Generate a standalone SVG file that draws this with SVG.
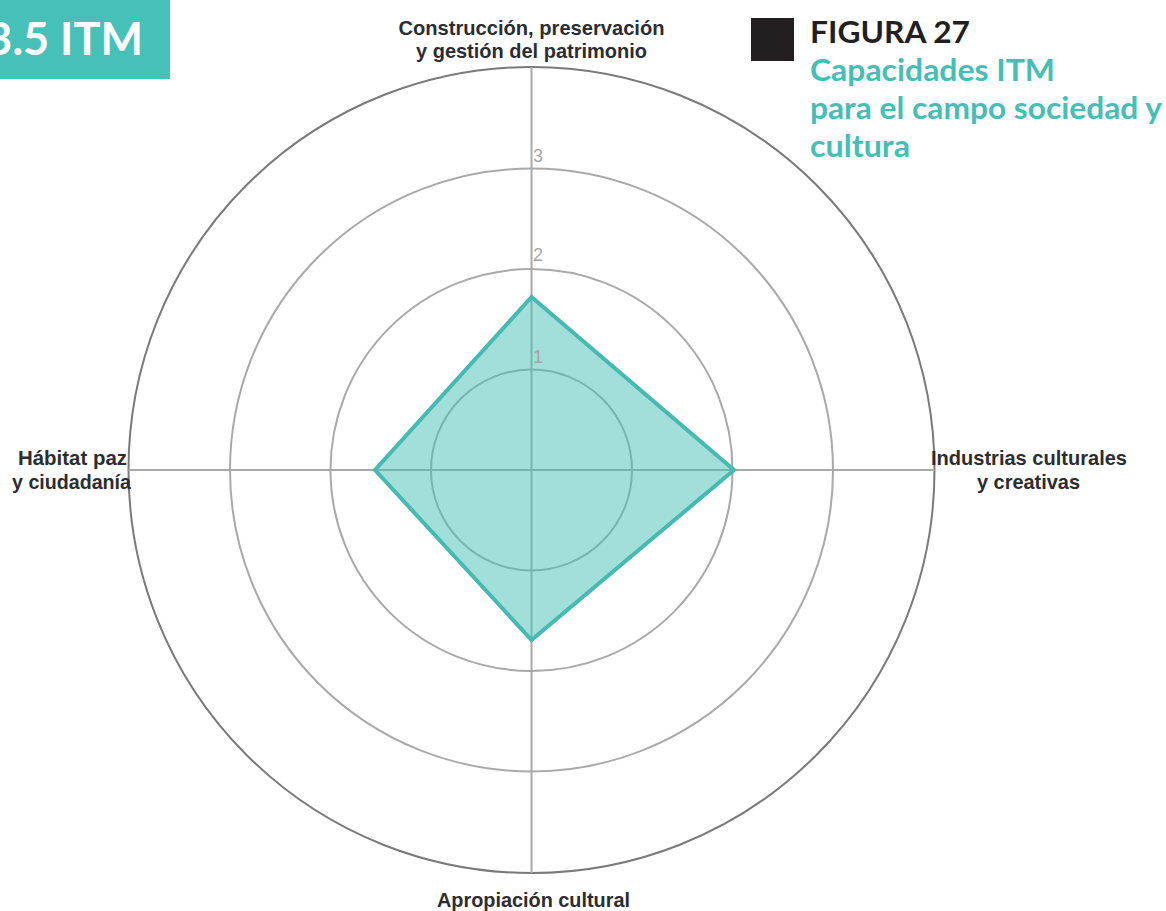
<svg xmlns="http://www.w3.org/2000/svg" width="1166" height="911" viewBox="0 0 1166 911">
<style>
.grid{fill:none;stroke:#a9a9a9;stroke-width:2}
.outer{fill:none;stroke:#7a7a7a;stroke-width:2}
.axis{stroke:#a9a9a9;stroke-width:2}
.lbl{font-family:"Liberation Sans",Arial,sans-serif;font-weight:bold;font-size:21px;fill:#2b2d30}
.tick{font-family:"Liberation Sans",Arial,sans-serif;font-size:18px;fill:#a6a6a6}
.head{font-family:Lato,"Open Sans",sans-serif;font-weight:bold}
</style>
<rect width="1166" height="911" fill="#ffffff"/>
<g id="header">
<rect x="0" y="0" width="170" height="79" fill="#46c1b7"/>
<text class="head" x="143" y="55" font-size="45" fill="#ffffff" text-anchor="end">3.5 ITM</text>
</g>
<g id="title">
<rect x="751" y="18" width="43" height="43" fill="#231f20"/>
<text class="head" x="810" y="43" font-size="31" fill="#231f20" textLength="160" lengthAdjust="spacingAndGlyphs">FIGURA 27</text>
<text class="head" x="810" y="81" font-size="31" fill="#45bfb5" textLength="245" lengthAdjust="spacingAndGlyphs">Capacidades ITM</text>
<text class="head" x="810" y="119" font-size="31" fill="#45bfb5" textLength="352" lengthAdjust="spacingAndGlyphs">para el campo sociedad y</text>
<text class="head" x="810" y="157" font-size="31" fill="#45bfb5" textLength="100" lengthAdjust="spacingAndGlyphs">cultura</text>
</g>
<g id="grid">
<circle class="grid" cx="531.5" cy="470" r="100.5"/>
<circle class="grid" cx="531.5" cy="470" r="201"/>
<circle class="grid" cx="531.5" cy="470" r="301.5"/>
<circle class="outer" cx="531.5" cy="470" r="403"/>
</g>
<g id="connectors">
<line class="axis" x1="531.5" y1="67" x2="531.5" y2="873"/>
<line class="axis" x1="128.5" y1="470" x2="934.5" y2="470"/>
</g>
<g id="series">
<polygon points="531.5,297 734,470 531.5,640 375,470" fill="#45bdb5" fill-opacity="0.5" stroke="#45bab1" stroke-width="4" stroke-linejoin="miter"/>
</g>
<g id="ticks">
<text class="tick" x="533" y="363">1</text>
<text class="tick" x="533" y="261">2</text>
<text class="tick" x="533" y="162">3</text>
</g>
<g id="label-top">
<text class="lbl" x="531.5" y="35" text-anchor="middle" textLength="266" lengthAdjust="spacingAndGlyphs">Construcción, preservación</text>
<text class="lbl" x="531.5" y="58" text-anchor="middle" textLength="231" lengthAdjust="spacingAndGlyphs">y gestión del patrimonio</text>
</g>
<g id="label-left">
<text class="lbl" x="127" y="465" text-anchor="end" textLength="109" lengthAdjust="spacingAndGlyphs">Hábitat paz</text>
<text class="lbl" x="131" y="489" text-anchor="end" textLength="119" lengthAdjust="spacingAndGlyphs">y ciudadanía</text>
</g>
<g id="label-right">
<text class="lbl" x="931" y="465" textLength="196" lengthAdjust="spacingAndGlyphs">Industrias culturales</text>
<text class="lbl" x="977" y="489" textLength="103" lengthAdjust="spacingAndGlyphs">y creativas</text>
</g>
<g id="label-bottom">
<text class="lbl" x="437" y="907" textLength="193" lengthAdjust="spacingAndGlyphs">Apropiación cultural</text>
</g>
</svg>
